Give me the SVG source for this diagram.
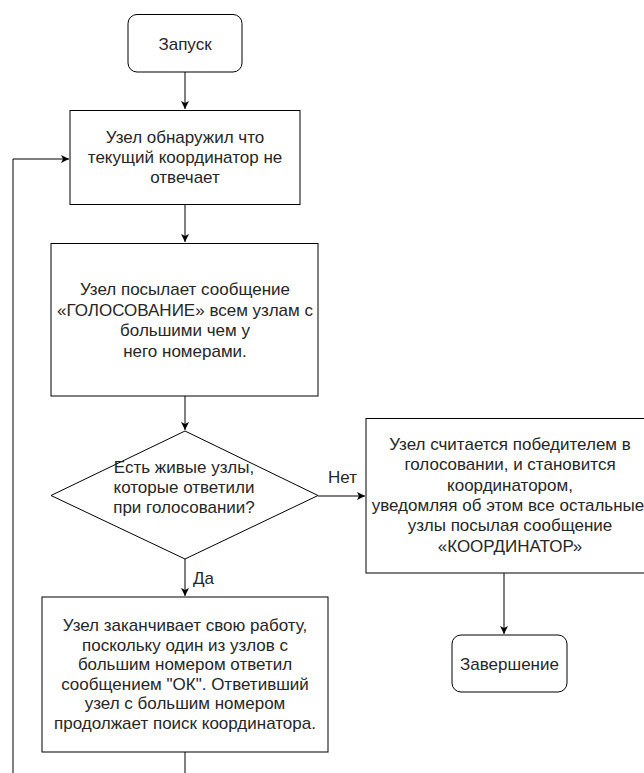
<svg xmlns="http://www.w3.org/2000/svg" width="644" height="773" viewBox="0 0 644 773">
<style>
.n{fill:#fff;stroke:#000;stroke-width:1}
.t{font-family:"Liberation Sans",Arial,sans-serif;font-size:17px;fill:#262626;text-anchor:middle}
.l{font-family:"Liberation Sans",Arial,sans-serif;font-size:17px;fill:#262626}
.c{fill:none;stroke:#000;stroke-width:1}
</style>
<defs>
<marker id="a" viewBox="0 0 10 10" refX="10" refY="5" markerWidth="8" markerHeight="8" markerUnits="userSpaceOnUse" orient="auto">
<path d="M0,0 L10,5 L0,10 L2.5,5 Z" fill="#000"/>
</marker>
</defs>
<rect width="644" height="773" fill="#fff"/>
<g id="connectors">
<path class="c" d="M185,72 V109" marker-end="url(#a)"/>
<path class="c" d="M185,205 V242" marker-end="url(#a)"/>
<path class="c" d="M185,396 V430" marker-end="url(#a)"/>
<path class="c" d="M318,496 H365" marker-end="url(#a)"/>
<path class="c" d="M504,573 V634" marker-end="url(#a)"/>
<path class="c" d="M185,559 V596" marker-end="url(#a)"/>
<path class="c" d="M185,752 V773"/>
<path class="c" d="M13,773 V159 H69" marker-end="url(#a)"/>
<text class="l" x="328" y="483">Нет</text>
<text class="l" x="193" y="584">Да</text>
</g>
<g id="start">
<rect class="n" x="128" y="14.5" width="114" height="57.5" rx="9"/>
<text class="t" x="185" y="50">Запуск</text>
</g>
<g id="detect">
<rect class="n" x="70" y="110.5" width="230" height="94"/>
<text class="t" x="185" y="143">Узел обнаружил что</text>
<text class="t" x="185" y="163">текущий координатор не</text>
<text class="t" x="185" y="183">отвечает</text>
</g>
<g id="send">
<rect class="n" x="51" y="243.5" width="267" height="152.5"/>
<text class="t" x="185" y="295">Узел посылает сообщение</text>
<text class="t" x="185" y="316">«ГОЛОСОВАНИЕ» всем узлам с</text>
<text class="t" x="185" y="336">большими чем у</text>
<text class="t" x="185" y="357">него номерами.</text>
</g>
<g id="decision">
<path class="n" d="M185,431 L318,495.5 L185,559 L51,495.5 Z"/>
<text class="t" x="184" y="473">Есть живые узлы,</text>
<text class="t" x="184" y="493">которые ответили</text>
<text class="t" x="184" y="513">при голосовании?</text>
</g>
<g id="winner">
<rect class="n" x="366" y="418.5" width="294" height="154.5"/>
<text class="t" x="510" y="450">Узел считается победителем в</text>
<text class="t" x="510" y="470">голосовании, и становится</text>
<text class="t" x="510" y="491">координатором,</text>
<text class="t" x="508" y="511">уведомляя об этом все остальные</text>
<text class="t" x="510" y="531">узлы посылая сообщение</text>
<text class="t" x="510" y="552">«КООРДИНАТОР»</text>
</g>
<g id="finish">
<rect class="n" x="452" y="635" width="115" height="57" rx="9"/>
<text class="t" x="509.5" y="670">Завершение</text>
</g>
<g id="stop">
<rect class="n" x="42" y="597" width="286" height="155"/>
<text class="t" x="185" y="631">Узел заканчивает свою работу,</text>
<text class="t" x="185" y="651">поскольку один из узлов с</text>
<text class="t" x="185" y="670">большим номером ответил</text>
<text class="t" x="185" y="690">сообщением "ОК". Ответивший</text>
<text class="t" x="185" y="709">узел с большим номером</text>
<text class="t" x="185" y="729">продолжает поиск координатора.</text>
</g>
</svg>
